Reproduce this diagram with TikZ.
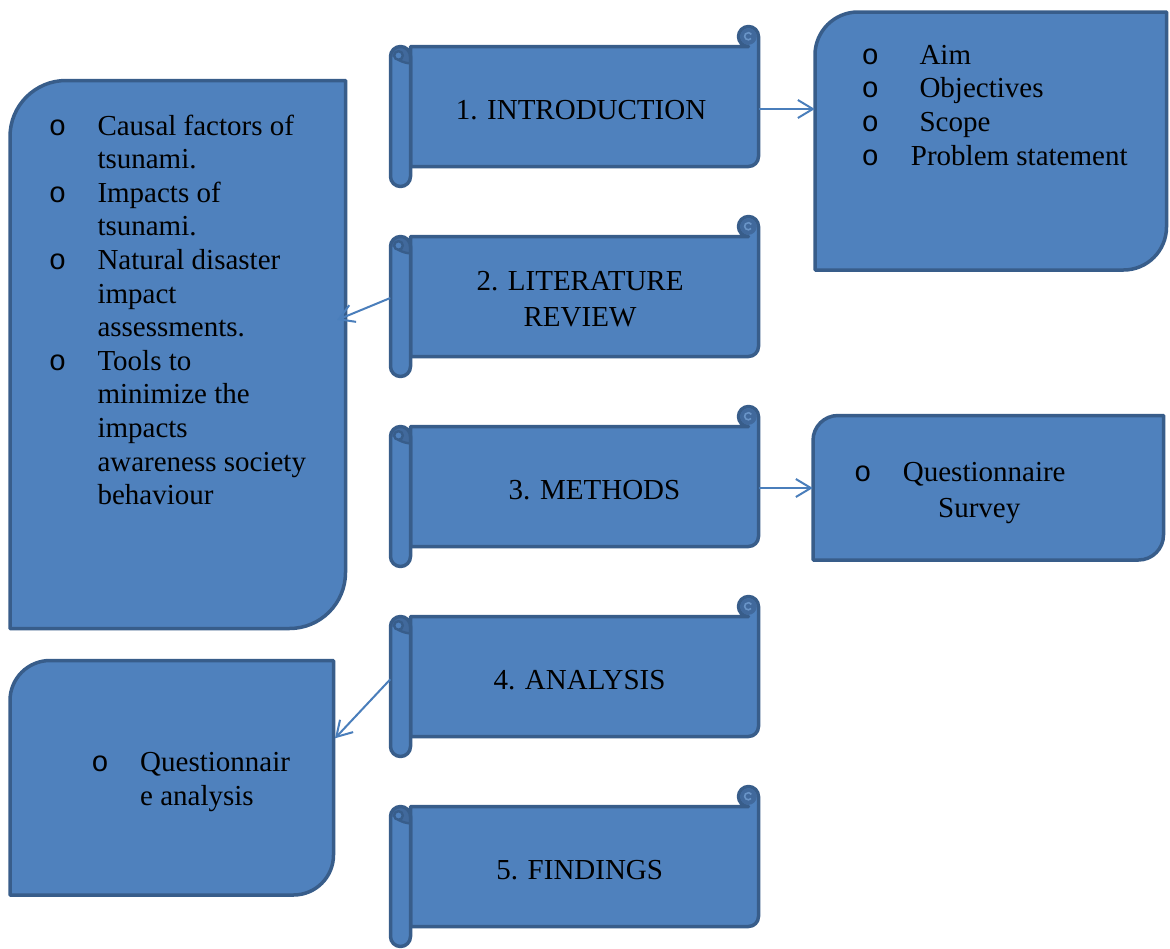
\documentclass[tikz,border=0pt]{standalone}
\usepackage{fontspec}
\setmainfont{Liberation Serif}
\newfontfamily\bulfont{Liberation Mono}
\usepackage{array}
\usetikzlibrary{arrows.meta}
\definecolor{boxfill}{HTML}{4F81BD}
\definecolor{boxline}{HTML}{385D8A}
\definecolor{curlfill}{HTML}{41699C}
\definecolor{arrowcol}{HTML}{4A7EBB}
\tikzset{
  shapeline/.style={draw=boxline, fill=boxfill, line width=3.5pt, line join=round},
  curlline/.style={draw=boxline, line width=2.4pt},
  conn/.style={draw=arrowcol, line width=2pt, -{Straight Barb[length=15pt,width=18pt]}},
  txt/.style={inner sep=0pt, font=\fontsize{29}{33.6}\selectfont},
  holder/.style={inner sep=0pt, draw=none},
}
\newcommand\bul{{\bulfont o}}
% #1 name, #2 top y of the scroll
\newcommand\scrollshape[2]{%
  \node[holder, minimum width=368pt, minimum height=120pt] (#1) at (574.5,{#2+80}) {};
  \draw[shapeline] (410.5,{#2+20}) -- (748.5,{#2+20})
     arc[start angle=90,end angle=360,radius=10] -- (758.5,{#2+130})
     arc[start angle=0,end angle=90,radius=10] -- (410.5,{#2+140}) -- cycle;
  \fill[curlfill] (748.5,{#2+10}) circle (8.3);
  \draw[line width=1.6pt, color=boxfill!85!white] (751,{#2+12}) arc[start angle=40,end angle=330,radius=3.6];
  \fill[boxfill, rounded corners=10pt] (390.5,{#2+20}) rectangle (410.5,{#2+160});
  \fill[curlfill] (392,{#2+30}) arc[start angle=180,end angle=360,radius=8.5]
     -- (409,{#2+37}) .. controls (403,{#2+36}) and (399,{#2+35}) .. (396,{#2+32}) -- cycle;
  \draw[curlline, fill=boxfill] (398.5,{#2+29}) circle (4.3);
  \draw[curlline] (398.5,{#2+33.3}) .. controls (402,{#2+35.5}) and (406,{#2+36.5}) .. (410.5,{#2+37});
  \draw[shapeline, fill=none, rounded corners=10pt] (390.5,{#2+20}) rectangle (410.5,{#2+160});
}
% diagonal rounded box: x1 y1 x2 y2 radius
\newcommand\diagbox[5]{%
  \draw[shapeline] (#1,{#2+#5}) arc[start angle=180,end angle=270,radius=#5]
    -- (#3,#2) -- (#3,{#4-#5}) arc[start angle=0,end angle=90,radius=#5]
    -- (#1,#4) -- cycle;
}
\begin{document}
\begin{tikzpicture}[x=1pt,y=-1pt]
\useasboundingbox (0,0) rectangle (1170,948);
\fill[white] (0,0) rectangle (1170,948);

% scrolls
\scrollshape{s1}{26.5}
\scrollshape{s2}{216.5}
\scrollshape{s3}{406.5}
\scrollshape{s4}{596.5}
\scrollshape{s5}{786.5}

% side boxes
\node[holder, minimum width=335.5pt, minimum height=548pt] (lb) at (177.75,354.5) {};
\diagbox{10}{80.5}{345.5}{628.5}{56}
\node[holder, minimum width=351.5pt, minimum height=258pt] (aim) at (990.75,141) {};
\diagbox{815}{12}{1166.5}{270}{43}
\node[holder, minimum width=350.5pt, minimum height=144.5pt] (meth) at (988.25,487.75) {};
\diagbox{813}{415.5}{1163.5}{560}{25}
\node[holder, minimum width=323.5pt, minimum height=234.5pt] (ana) at (171.75,777.75) {};
\diagbox{10}{660.5}{333.5}{895}{40}

% scroll labels
\node[txt, anchor=base] (t1) at (581,119) {1. INTRODUCTION};
\node[txt, anchor=base, font=\fontsize{29}{36}\selectfont] (t2) at (580,290)
  {\begin{tabular}[t]{@{}c@{}}2. LITERATURE\\REVIEW\end{tabular}};
\node[txt, anchor=base] (t3) at (594.5,499.5) {3. METHODS};
\node[txt, anchor=base] (t4) at (579.5,689.5) {4. ANALYSIS};
\node[txt, anchor=base] (t5) at (579.7,879.3) {5. FINDINGS};

% box texts
\node[txt, anchor=base west] (lbt) at (48.3,135)
  {\begin{tabular}[t]{@{}w{c}{18pt}@{\hspace{31pt}}l@{}}
   \bul & Causal factors of\\
        & tsunami.\\
   \bul & Impacts of\\
        & tsunami.\\
   \bul & Natural disaster\\
        & impact\\
        & assessments.\\
   \bul & Tools to\\
        & minimize the\\
        & impacts\\
        & awareness society\\
        & behaviour
  \end{tabular}};
\node[txt, anchor=base west, font=\fontsize{29}{33.8}\selectfont] (aimt) at (861,64)
  {\begin{tabular}[t]{@{}w{c}{18pt}@{\hspace{31.7pt}}l@{}}
   \bul & \hspace{8.6pt}Aim\\
   \bul & \hspace{8.6pt}Objectives\\
   \bul & \hspace{8.6pt}Scope\\
   \bul & Problem statement
  \end{tabular}};
\node[txt, anchor=base west, font=\fontsize{29}{35.3}\selectfont] (metht) at (853.7,481.7)
  {\begin{tabular}[t]{@{}w{c}{18pt}@{\hspace{31pt}}l@{}}
   \bul & Questionnaire\\
        & \hspace{35.3pt}Survey
  \end{tabular}};
\node[txt, anchor=base west, font=\fontsize{29}{33.3}\selectfont] (anat) at (91,771.7)
  {\begin{tabular}[t]{@{}w{c}{18pt}@{\hspace{31pt}}l@{}}
   \bul & Questionnair\\
        & e analysis
  \end{tabular}};

% connectors
\coordinate (ya) at (0,109);
\coordinate (yc) at (0,488);
\coordinate (lbin) at (337,320);
\coordinate (anain) at (335,738.3);
\draw[conn] (s1.east |- ya) -- (aim.west |- ya);
\draw[conn] ([yshift=-1.5pt]s2.west) -- (lbin);
\draw[conn] (s3.east |- yc) -- (meth.west |- yc);
\draw[conn] ([yshift=-2.8pt]s4.west) -- (anain);
\end{tikzpicture}
\end{document}
